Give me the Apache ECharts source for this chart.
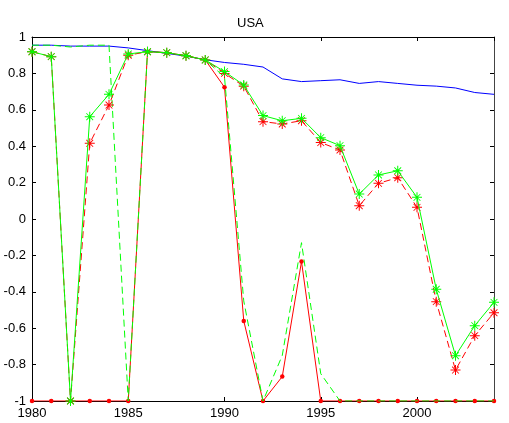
<!DOCTYPE html>
<html>
<head>
<meta charset="utf-8">
<script src="https://cdn.jsdelivr.net/npm/echarts@6/dist/echarts.min.js"></script>
<style>
html,body{margin:0;padding:0;background:#fff;}
#chart{width:509px;height:423px;}
</style>
</head>
<body>
<div id="chart"></div>
<script>
const titleText = 'USA';
const years = [1980,1981,1982,1983,1984,1985,1986,1987,1988,1989,1990,1991,1992,1993,1994,1995,1996,1997,1998,1999,2000,2001,2002,2003,2004];
const blueVals = [0.955,0.955,0.95,0.95,0.95,0.94,0.925,0.91,0.895,0.875,0.86,0.85,0.835,0.77,0.755,0.76,0.765,0.745,0.755,0.745,0.735,0.73,0.72,0.695,0.685];
const redDotVals = [-1,-1,-1,-1,-1,-1,0.919,0.914,0.897,0.874,0.724,-0.56,-1,-0.866,-0.234,-1,-1,-1,-1,-1,-1,-1,-1,-1,-1];
const greenDashVals = [0.955,0.955,0.945,0.955,0.955,-1,0.919,0.914,0.897,0.874,0.78,-0.45,-1,-0.75,-0.13,-0.85,-1,-1,-1,-1,-1,-1,-1,-1,-1];
const redStarVals = [0.919,0.892,-1,0.416,0.626,0.90,0.919,0.914,0.897,0.874,0.80,0.73,0.535,0.522,0.54,0.42,0.379,0.073,0.196,0.227,0.064,-0.454,-0.83,-0.641,-0.515];
const greenStarVals = [0.919,0.892,-1,0.562,0.685,0.907,0.919,0.914,0.897,0.874,0.81,0.736,0.568,0.54,0.553,0.447,0.403,0.137,0.242,0.265,0.119,-0.386,-0.751,-0.586,-0.458];

const pairs = vals => years.map((y, i) => [y, vals[i]]);
const starPath = 'path://M0 4.5L10 4.5L10 5.5L0 5.5Z M4.5 0L5.5 0L5.5 10L4.5 10Z M1.3 1.9L1.9 1.3L8.7 8.1L8.1 8.7Z M8.1 1.3L8.7 1.9L1.9 8.7L1.3 8.1Z';
const font = 'Liberation Sans, Arial, sans-serif';

const chart = echarts.init(document.getElementById('chart'), null, {renderer: 'canvas'});
chart.setOption({
  animation: false,
  backgroundColor: '#fff',
  title: {
    text: titleText, left: 232, top: 12,
    textStyle: {fontFamily: font, fontSize: 13, fontWeight: 'normal', color: '#000'}
  },
  grid: {left: 32, right: 15, top: 37, bottom: 22, containLabel: false},
  xAxis: [{
    type: 'value', min: 1980, max: 2004, interval: 5, position: 'bottom',
    axisLine: {show: true, onZero: false, lineStyle: {color: '#000', width: 1}},
    axisTick: {show: true, inside: true, length: 4, lineStyle: {color: '#000'}},
    axisLabel: {show: true, showMaxLabel: false, margin: 6, color: '#000', fontFamily: font, fontSize: 13, formatter: v => String(v)},
    splitLine: {show: false}
  }, {
    type: 'value', min: 1980, max: 2004, interval: 5, position: 'top',
    axisLine: {show: true, onZero: false, lineStyle: {color: '#000', width: 1}},
    axisTick: {show: true, inside: true, length: 4, lineStyle: {color: '#000'}},
    axisLabel: {show: false},
    splitLine: {show: false}
  }],
  yAxis: [{
    type: 'value', min: -1, max: 1, interval: 0.2, position: 'left',
    axisLine: {show: true, onZero: false, lineStyle: {color: '#000', width: 1}},
    axisTick: {show: true, inside: true, length: 4, lineStyle: {color: '#000'}},
    axisLabel: {show: true, margin: 6, color: '#000', fontFamily: font, fontSize: 13},
    splitLine: {show: false}
  }, {
    type: 'value', min: -1, max: 1, interval: 0.2, position: 'right',
    axisLine: {show: true, onZero: false, lineStyle: {color: '#444', width: 1}},
    axisTick: {show: true, inside: true, length: 4, lineStyle: {color: '#000'}},
    axisLabel: {show: false},
    splitLine: {show: false}
  }],
  series: [
    {type: 'line', name: 'blue', data: pairs(blueVals), showSymbol: false, symbol: 'none',
     lineStyle: {color: '#0000ff', width: 1}, z: 2},
    {type: 'line', name: 'redDot', data: pairs(redDotVals), symbol: 'circle', symbolSize: 4.5,
     itemStyle: {color: '#ff0000', borderWidth: 0}, lineStyle: {color: '#ff0000', width: 1}, z: 3},
    {type: 'line', name: 'greenDash', data: pairs(greenDashVals), symbol: 'none',
     lineStyle: {color: '#00ff00', width: 1, type: [7, 4]}, z: 4},
    {type: 'line', name: 'redStar', data: pairs(redStarVals), symbol: starPath, symbolSize: 10,
     itemStyle: {color: '#ff0000', borderWidth: 0}, lineStyle: {color: '#ff0000', width: 1, type: [7, 4]}, z: 5},
    {type: 'line', name: 'greenStar', data: pairs(greenStarVals), symbol: starPath, symbolSize: 10,
     itemStyle: {color: '#00ff00', borderWidth: 0}, lineStyle: {color: '#00ff00', width: 1}, z: 6}
  ]
});
</script>
</body>
</html>
